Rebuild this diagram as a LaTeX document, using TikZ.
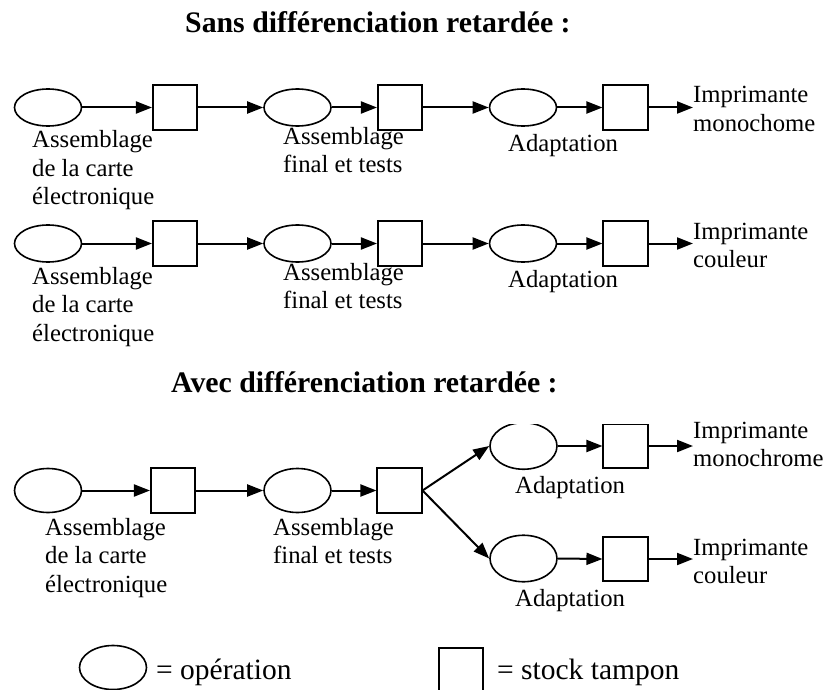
\documentclass[tikz,border=0pt]{standalone}
\usepackage{fontspec}
\setmainfont{Liberation Serif}
\usetikzlibrary{arrows.meta,shapes.geometric}
\newcommand\mlines[1]{\begin{tabular}[t]{@{}l@{}}#1\end{tabular}}
\begin{document}
\begin{tikzpicture}[x=1pt,y=-1pt,
  op/.style={ellipse,draw,line width=1.6pt,minimum width=67pt,minimum height=37pt,inner sep=0pt},
  opb/.style={op,minimum height=44pt},
  stock/.style={rectangle,draw,line width=1.6pt,minimum size=44.5pt,inner sep=0pt},
  flow/.style={line width=2pt,-{Triangle[length=16pt,width=12pt]}},
  lbl/.style={anchor=base west,inner sep=0pt,font=\fontsize{24.7}{28.5}\selectfont},
  ttl/.style={anchor=base west,inner sep=0pt,font=\fontsize{29.8}{34}\selectfont\bfseries},
  leg/.style={anchor=base west,inner sep=0pt,font=\fontsize{29.5}{34}\selectfont}]
\useasboundingbox (0,0) rectangle (827,690);

% titles
\node[ttl] (t1) at (185,33) {Sans différenciation retardée :};
\node[ttl] (t2) at (171,392) {Avec différenciation retardée :};

% row 1
\node[op] (a1) at (48,107.5) {};
\node[stock] (b1) at (175,107.5) {};
\node[op] (c1) at (297.5,107.5) {};
\node[stock] (d1) at (400,107.5) {};
\node[op] (e1) at (523,107.5) {};
\node[stock] (f1) at (625.5,107.5) {};
\coordinate (o1) at (693,107.5);
\draw[flow] (a1.east) -- (b1.west);
\draw[flow] (b1.east) -- (c1.west);
\draw[flow] (c1.east) -- (d1.west);
\draw[flow] (d1.east) -- (e1.west);
\draw[flow] (e1.east) -- (f1.west);
\draw[flow] (f1.east) -- (o1);
\node[lbl] (la1) at (32,148) {\mlines{Assemblage\\de la carte\\électronique}};
\node[lbl] (lc1) at (283,144) {\mlines{Assemblage\\final et tests}};
\node[lbl] (le1) at (508,151) {Adaptation};
\node[lbl] (lo1) at (693,103) {\mlines{Imprimante\\monochome}};

% row 2
\node[op] (a2) at (48,243.5) {};
\node[stock] (b2) at (175,243.5) {};
\node[op] (c2) at (297.5,243.5) {};
\node[stock] (d2) at (400,243.5) {};
\node[op] (e2) at (523,243.5) {};
\node[stock] (f2) at (625.5,243.5) {};
\coordinate (o2) at (693,243.5);
\draw[flow] (a2.east) -- (b2.west);
\draw[flow] (b2.east) -- (c2.west);
\draw[flow] (c2.east) -- (d2.west);
\draw[flow] (d2.east) -- (e2.west);
\draw[flow] (e2.east) -- (f2.west);
\draw[flow] (f2.east) -- (o2);
\node[lbl] (la2) at (32,284) {\mlines{Assemblage\\de la carte\\électronique}};
\node[lbl] (lc2) at (283,280) {\mlines{Assemblage\\final et tests}};
\node[lbl] (le2) at (508,287) {Adaptation};
\node[lbl] (lo2) at (693,239) {\mlines{Imprimante\\couleur}};

% row 3 (avec)
\node[opb] (a3) at (48,490.5) {};
\node[stock] (b3) at (173,490.5) {};
\node[opb] (c3) at (297.5,490.5) {};
\node[stock] (d3) at (399.5,490.5) {};
\begin{scope}
  \clip (430,424.5) rectangle (827,690);
  \node[opb,minimum height=46.5pt] (e3u) at (523.5,446) {};
  \node[stock] (f3u) at (625.5,446) {};
\end{scope}
\node[opb,minimum height=46.5pt] (e3l) at (523.5,558.5) {};
\node[stock] (f3l) at (625.5,559) {};
\coordinate (o3u) at (693,446);
\coordinate (o3l) at (693,559);
\draw[flow] (a3.east) -- (b3.west);
\draw[flow] (b3.east) -- (c3.west);
\draw[flow] (c3.east) -- (d3.west);
\draw[flow] (d3.east) -- (e3u.west);
\draw[flow] (d3.east) -- (e3l.west);
\draw[flow] (e3u.east) -- (f3u.west);
\draw[flow] (e3l.east) -- (f3l.west);
\draw[flow] (f3u.east) -- (o3u);
\draw[flow] (f3l.east) -- (o3l);
\node[lbl] (la3) at (45,535) {\mlines{Assemblage\\de la carte\\électronique}};
\node[lbl] (lc3) at (273,535) {\mlines{Assemblage\\final et tests}};
\node[lbl] (leu) at (515,493) {Adaptation};
\node[lbl] (lel) at (515,606) {Adaptation};
\node[lbl] (lou) at (693,438) {\mlines{Imprimante\\monochrome}};
\node[lbl] (lol) at (693,555) {\mlines{Imprimante\\couleur}};

% legend
\node[opb] (lgo) at (113,667.5) {};
\node[leg] (lgot) at (156,679) {= opération};
\node[stock] (lgs) at (461,670) {};
\node[leg] (lgst) at (497,679) {= stock tampon};
\end{tikzpicture}
\end{document}
